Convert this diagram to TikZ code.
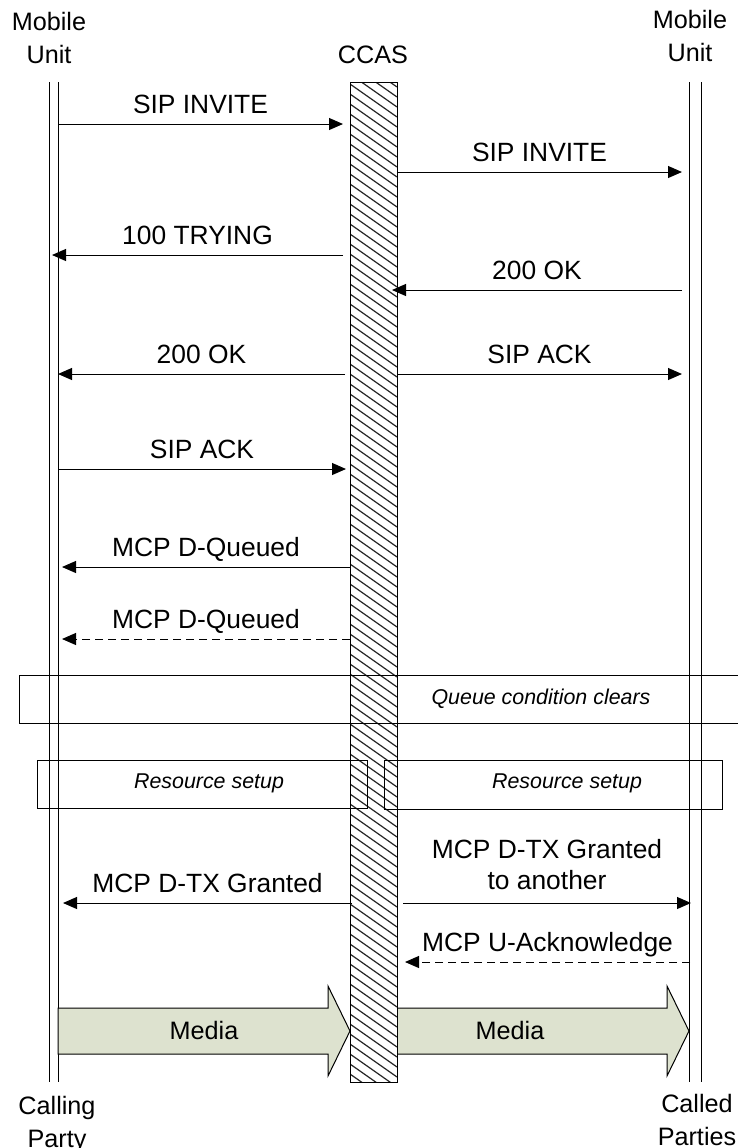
\documentclass[tikz,border=0pt]{standalone}
\usepackage{fontspec}
\setmainfont{Liberation Sans}
\usepackage{tikz}
\usetikzlibrary{arrows.meta, calc}
\definecolor{mediafill}{RGB}{221,226,207}

\begin{document}
\begin{tikzpicture}[x=0.5pt, y=-0.5pt,
    lifeline/.style={line width=0.5pt},
    msg/.style={line width=0.5pt, -{Triangle[length=7pt, width=6pt]}},
    dashmsg/.style={msg, dash pattern=on 4pt off 2.5pt},
    lbl/.style={font=\fontsize{12.6}{16.5}\selectfont, inner sep=0pt},
    msglbl/.style={font=\fontsize{13.2}{15.5}\selectfont, inner sep=0pt},
    notebox/.style={draw, line width=0.5pt},
    notetext/.style={font=\fontsize{10.7}{13}\selectfont\itshape, inner sep=0pt},
    media/.style={draw, line width=0.5pt, fill=mediafill},
    hatch/.style={line width=0.6pt, black!85},
]
\useasboundingbox (0,0) rectangle (738,1148);

% Headers and footers
\node[lbl, align=center] (mua) at (49,38) {Mobile\\Unit};
\node[lbl] (ccas) at (373,55) {CCAS};
\node[lbl, align=center] (mub) at (690,36) {Mobile\\Unit};
\node[lbl, align=center] (calling) at (57,1124) {Calling\\Party};
\node[lbl, align=center] (called) at (697,1120) {Called\\Parties};

% Lifelines
\foreach \x in {49, 58, 689, 701} {
  \draw[lifeline] (\x,82) -- (\x,1082);
}

% Media streams
\draw[media] (58,1008) -- (328,1008) -- (328,986) -- (350,1031) -- (328,1076)
  -- (328,1054) -- (58,1054) -- cycle;
\draw[media] (397,1008) -- (667,1008) -- (667,986) -- (689,1031) -- (667,1076)
  -- (667,1054) -- (397,1054) -- cycle;
\node[lbl] (mediaa) at (204,1030) {Media};
\node[lbl] (mediab) at (510,1030) {Media};

% CCAS bar
\fill[white] (350,82) rectangle (397,1082);
\begin{scope}
  \clip (350,82) rectangle (397,1082);
  \foreach \k in {44,54,...,1084} {
    \draw[hatch] (350,\k) -- (397,\k+33);
  }
\end{scope}
\draw[line width=0.5pt] (350,82) rectangle (397,1082);

% Messages
\foreach \xa/\xb/\y/\txt/\sty [count=\i] in {
    58/343/124/SIP INVITE/msg,
    397/682/172/SIP INVITE/msg,
    343/52/255/100 TRYING/msg,
    682/392/290/200 OK/msg,
    345/58/374/200 OK/msg,
    397/682/374/SIP ACK/msg,
    58/346/469/SIP ACK/msg,
    350/62/567/MCP D-Queued/msg,
    350/62/639/MCP D-Queued/dashmsg,
    352/63/903/MCP D-TX Granted/msg,
    690/405/962/MCP U-Acknowledge/dashmsg} {
  \coordinate (s\i) at (\xa,\y);
  \coordinate (e\i) at (\xb,\y);
  \draw[\sty] (s\i) -- node[msglbl, anchor=base, yshift=5.5pt] {\txt} (e\i);
}
\coordinate (sgr) at (403,903);
\coordinate (egr) at (691,903);
\draw[msg] (sgr) -- node[msglbl, anchor=south, align=center, yshift=6.5pt]
  {MCP D-TX Granted\\to another} (egr);

% Notes
\draw[notebox] (19,675) rectangle (740,723);
\node[notetext] (queue) at (541,699) {Queue condition clears};
\draw[notebox] (37,760) rectangle (367,808);
\node[notetext] (resa) at (209,783) {Resource setup};
\draw[notebox] (384,760) rectangle (722,809);
\node[notetext] (resb) at (567,783) {Resource setup};

\end{tikzpicture}
\end{document}
